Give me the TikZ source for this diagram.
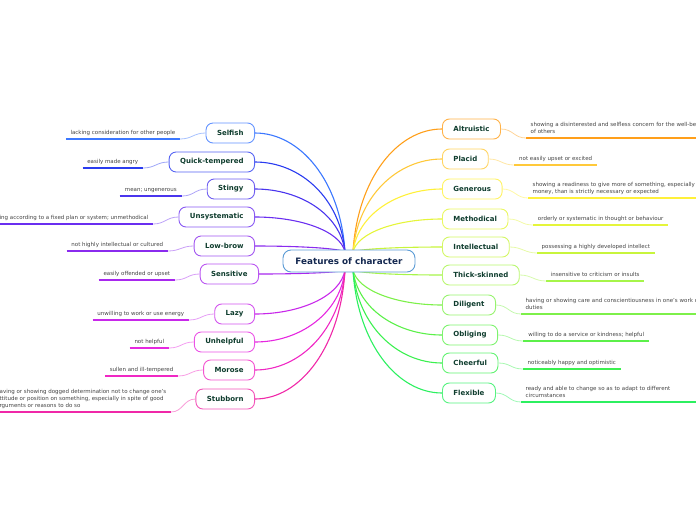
\documentclass[tikz,border=0pt]{standalone}
\usepackage{fontspec}
\setmainfont{DejaVu Sans}
\usetikzlibrary{backgrounds}
\newcommand\descfont{\fontsize{5.5}{7}\selectfont}
\newcommand\nodefont{\fontsize{7}{8.4}\selectfont\bfseries}
\newcommand\centerfont{\fontsize{8.8}{10}\selectfont\bfseries}
\definecolor{nodetext}{HTML}{0F3D2E}
\definecolor{centertext}{HTML}{142850}
\definecolor{centerborder}{HTML}{5B9BD5}
\definecolor{desctext}{HTML}{444444}
\definecolor{cSel}{HTML}{3C78FF}
\definecolor{cQui}{HTML}{2A3CF0}
\definecolor{cSti}{HTML}{4A35EE}
\definecolor{cUns}{HTML}{6A2EF0}
\definecolor{cLow}{HTML}{8A2BEE}
\definecolor{cSen}{HTML}{A828EE}
\definecolor{cLaz}{HTML}{C828EA}
\definecolor{cUnh}{HTML}{E628E0}
\definecolor{cMor}{HTML}{F028C4}
\definecolor{cStu}{HTML}{F028A8}
\definecolor{cAlt}{HTML}{FF9F1A}
\definecolor{cPla}{HTML}{FFC93A}
\definecolor{cGen}{HTML}{FFF03A}
\definecolor{cMet}{HTML}{E5F53A}
\definecolor{cInt}{HTML}{C8F53C}
\definecolor{cThi}{HTML}{A6F54A}
\definecolor{cDil}{HTML}{7DF04A}
\definecolor{cObl}{HTML}{5CF04A}
\definecolor{cChe}{HTML}{3CF050}
\definecolor{cFle}{HTML}{2CF060}
\begin{document}
\begin{tikzpicture}[x=1pt,y=-1pt,
  lnode/.style={draw=#1!80!white, line width=0.9pt, fill=white, rounded corners=7pt,
    minimum height=20pt, inner xsep=11pt, inner ysep=2pt, font=\nodefont, text=nodetext},
  cnode/.style={draw=centerborder, line width=0.9pt, fill=white, rounded corners=8pt,
    minimum height=22pt, inner xsep=12.5pt, font=\centerfont, text=centertext},
  desc/.style={font=\descfont, text=desctext, inner xsep=4.5pt, inner ysep=2pt,
    execute at end node=\strut},
  mainline/.style={draw=#1, line width=1.1pt},
  subline/.style={draw=#1!45!white, line width=0.8pt},
  uline/.style={draw=#1, line width=1.3pt}]
\useasboundingbox (0,0) rectangle (696,520);

% convergence points
\coordinate (LT) at (345,252);
\coordinate (RT) at (353,252);
\coordinate (LB) at (345,270);
\coordinate (RB) at (353,270);

% central node
\node[cnode] (c) at (349,261) {Features of character};

% left nodes
\node[lnode=cSel, anchor=east] (sel) at (255,133) {Selfish};
\node[lnode=cQui, anchor=east] (qui) at (255,162) {Quick-tempered};
\node[lnode=cSti, anchor=east] (sti) at (255,189) {Stingy};
\node[lnode=cUns, anchor=east] (uns) at (255,217) {Unsystematic};
\node[lnode=cLow, anchor=east] (low) at (255,246) {Low-brow};
\node[lnode=cSen, anchor=east] (sen) at (259,274) {Sensitive};
\node[lnode=cLaz, anchor=east] (laz) at (255,314) {Lazy};
\node[lnode=cUnh, anchor=east] (unh) at (255,342) {Unhelpful};
\node[lnode=cMor, anchor=east] (mor) at (255,370) {Morose};
\node[lnode=cStu, anchor=east] (stu) at (255,399) {Stubborn};

% right nodes
\node[lnode=cAlt, anchor=west] (alt) at (442,129) {Altruistic};
\node[lnode=cPla, anchor=west] (pla) at (442,159) {Placid};
\node[lnode=cGen, anchor=west] (gen) at (442,189) {Generous};
\node[lnode=cMet, anchor=west] (met) at (442,219) {Methodical};
\node[lnode=cInt, anchor=west] (int) at (442,247) {Intellectual};
\node[lnode=cThi, anchor=west] (thi) at (442,275) {Thick-skinned};
\node[lnode=cDil, anchor=west] (dil) at (442,305) {Diligent};
\node[lnode=cObl, anchor=west] (obl) at (442,335) {Obliging};
\node[lnode=cChe, anchor=west] (che) at (442,363) {Cheerful};
\node[lnode=cFle, anchor=west] (fle) at (442,393) {Flexible};

% left descriptions
\node[desc, anchor=south east, minimum width=113pt] (dsel) at (180,139) {lacking consideration for other people};
\node[desc, anchor=south east, minimum width=60pt] (dqui) at (143,168) {easily made angry};
\node[desc, anchor=south east, minimum width=62pt] (dsti) at (182,196) {mean; ungenerous};
\node[desc, anchor=south east] (duns) at (153,224) {not done or acting according to a fixed plan or system; unmethodical};
\node[desc, anchor=south east, minimum width=101pt] (dlow) at (168,251) {not highly intellectual or cultured};
\node[desc, anchor=south east, minimum width=76pt] (dsen) at (175,280) {easily offended or upset};
\node[desc, anchor=south east, minimum width=96pt] (dlaz) at (189,320) {unwilling to work or use energy};
\node[desc, anchor=south east, minimum width=39pt] (dunh) at (169,348) {not helpful};
\node[desc, anchor=south east, minimum width=72pt] (dmor) at (178,376) {sullen and ill-tempered};
\node[desc, anchor=south east, align=left] (dstu) at (171,412) {having or showing dogged determination not to change one's\\attitude or position on something, especially in spite of good\\arguments or reasons to do so};

% right descriptions
\node[desc, anchor=south west, text width=250pt, align=left] (dalt) at (526,138) {showing a disinterested and selfless concern for the well-being\\of others};
\node[desc, anchor=south west, minimum width=83pt] (dpla) at (514,165) {not easily upset or excited};
\node[desc, anchor=south west, text width=250pt, align=left] (dgen) at (528,198) {showing a readiness to give more of something, especially\\money, than is strictly necessary or expected};
\node[desc, anchor=south west, minimum width=135pt] (dmet) at (533,225) {orderly or systematic in thought or behaviour};
\node[desc, anchor=south west, minimum width=116pt] (dint) at (537,253) {possessing a highly developed intellect};
\node[desc, anchor=south west, minimum width=98pt] (dthi) at (546,281) {insensitive to criticism or insults};
\node[desc, anchor=south west, text width=250pt, align=left] (ddil) at (521,314) {having or showing care and conscientiousness in one's work or\\duties};
\node[desc, anchor=south west, minimum width=126pt] (dobl) at (523,341) {willing to do a service or kindness; helpful};
\node[desc, anchor=south west, minimum width=97pt] (dche) at (523,369) {noticeably happy and optimistic};
\node[desc, anchor=south west, text width=250pt, align=left] (dfle) at (521,402) {ready and able to change so as to adapt to different\\circumstances};

\begin{scope}[on background layer]
% main connectors, left
\draw[mainline=cSel] (sel.east) .. controls +(45,0) and +(-4.5,-71.4) .. (LT);
\draw[mainline=cQui] (qui.east) .. controls +(45,0) and +(-4.5,-54) .. (LT);
\draw[mainline=cSti] (sti.east) .. controls +(45,0) and +(-4.5,-37.8) .. (LT);
\draw[mainline=cUns] (uns.east) .. controls +(45,0) and +(-4.5,-21) .. (LT);
\draw[mainline=cLow] (low.east) .. controls +(45,0) and +(-4.5,-3.6) .. (LT);
\draw[mainline=cSen] (sen.east) .. controls +(43,0) and +(-4.3,2.4) .. (LB);
\draw[mainline=cLaz] (laz.east) .. controls +(45,0) and +(-4.5,26.4) .. (LB);
\draw[mainline=cUnh] (unh.east) .. controls +(45,0) and +(-4.5,43.2) .. (LB);
\draw[mainline=cMor] (mor.east) .. controls +(45,0) and +(-4.5,60) .. (LB);
\draw[mainline=cStu] (stu.east) .. controls +(45,0) and +(-4.5,77.4) .. (LB);
% main connectors, right
\draw[mainline=cAlt] (alt.west) .. controls +(-44.5,0) and +(4.5,-73.8) .. (RT);
\draw[mainline=cPla] (pla.west) .. controls +(-44.5,0) and +(4.5,-55.8) .. (RT);
\draw[mainline=cGen] (gen.west) .. controls +(-44.5,0) and +(4.5,-37.8) .. (RT);
\draw[mainline=cMet] (met.west) .. controls +(-44.5,0) and +(4.5,-19.8) .. (RT);
\draw[mainline=cInt] (int.west) .. controls +(-44.5,0) and +(4.5,-3) .. (RT);
\draw[mainline=cThi] (thi.west) .. controls +(-44.5,0) and +(4.5,3) .. (RB);
\draw[mainline=cDil] (dil.west) .. controls +(-44.5,0) and +(4.5,21) .. (RB);
\draw[mainline=cObl] (obl.west) .. controls +(-44.5,0) and +(4.5,39) .. (RB);
\draw[mainline=cChe] (che.west) .. controls +(-44.5,0) and +(4.5,55.8) .. (RB);
\draw[mainline=cFle] (fle.west) .. controls +(-44.5,0) and +(4.5,73.8) .. (RB);
\end{scope}

% underlines and sub connectors, left
\foreach \d/\n/\c in {dsel/sel/cSel, dqui/qui/cQui, dsti/sti/cSti, duns/uns/cUns, dlow/low/cLow,
                      dsen/sen/cSen, dlaz/laz/cLaz, dunh/unh/cUnh, dmor/mor/cMor, dstu/stu/cStu}{
  \draw[uline=\c] (\d.south west) -- (\d.south east);
  \draw[subline=\c] (\d.south east) .. controls +(12,0) and +(-12,0) .. (\n.west);
}
% underlines and sub connectors, right
\foreach \d/\n/\c in {dalt/alt/cAlt, dpla/pla/cPla, dgen/gen/cGen, dmet/met/cMet, dint/int/cInt,
                      dthi/thi/cThi, ddil/dil/cDil, dobl/obl/cObl, dche/che/cChe, dfle/fle/cFle}{
  \draw[uline=\c] (\d.south west) -- (\d.south east);
  \draw[subline=\c] (\n.east) .. controls +(12,0) and +(-12,0) .. (\d.south west);
}
\end{tikzpicture}
\end{document}
